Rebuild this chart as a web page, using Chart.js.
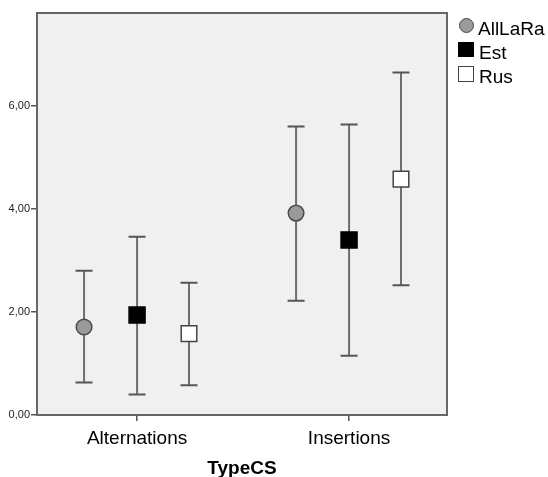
<!DOCTYPE html>
<html>
<head>
<meta charset="utf-8">
<script src="https://cdn.jsdelivr.net/npm/chart.js@4.4.1/dist/chart.umd.min.js"></script>
<style>
  html, body { margin: 0; padding: 0; background: #ffffff; }
  #wrap { position: relative; width: 548px; height: 477px; }
  canvas { position: absolute; left: 0; top: 0; }
  .lg { position: absolute; font-family: "Liberation Sans", Arial, sans-serif; font-size: 19px; line-height: 19px; color: #000; white-space: nowrap; }
  .sw { position: absolute; box-sizing: border-box; }
</style>
</head>
<body>
<div id="wrap">
  <canvas id="c" width="548" height="477"></canvas>
  <div class="sw" style="left:459px;top:18px;width:15px;height:15px;border-radius:50%;background:#9a9a9a;border:1.5px solid #4a4a4a;"></div>
  <div class="lg" style="left:478px;top:19px;">AllLaRa</div>
  <div class="sw" style="left:458px;top:42px;width:16px;height:15px;background:#000;"></div>
  <div class="lg" style="left:479px;top:43px;">Est</div>
  <div class="sw" style="left:458px;top:66px;width:16px;height:16px;background:#fff;border:1.5px solid #444;"></div>
  <div class="lg" style="left:479px;top:67px;">Rus</div>
</div>
<script>
const categories = ['Alternations', 'Insertions'];
const seriesNames = ['AllLaRa', 'Est', 'Rus'];
const meanAllLaRa = [1.71, 3.92];
const meanEst = [1.94, 3.40];
const meanRus = [1.58, 4.58];
const upperAllLaRa = [2.80, 5.60];
const upperEst = [3.46, 5.64];
const upperRus = [2.57, 6.65];
const lowerAllLaRa = [0.63, 2.22];
const lowerEst = [0.40, 1.15];
const lowerRus = [0.58, 2.52];
const yTickValues = [0, 2, 4, 6];
const yTickLabels = ['0,00', '2,00', '4,00', '6,00'];

const seriesOffsets = [-0.25, 0, 0.245];
const means = [meanAllLaRa, meanEst, meanRus];
const uppers = [upperAllLaRa, upperEst, upperRus];
const lowers = [lowerAllLaRa, lowerEst, lowerRus];
const styles = [
  { pointStyle: 'circle', radius: 7.8, bg: '#9a9a9a', border: '#4a4a4a' },
  { pointStyle: 'rect', radius: 11.3, bg: '#000000', border: '#000000' },
  { pointStyle: 'rect', radius: 11, bg: '#ffffff', border: '#444444' }
];

const datasets = seriesNames.map((name, s) => ({
  label: name,
  data: categories.map((c, i) => ({ x: i + seriesOffsets[s], y: means[s][i], lo: lowers[s][i], hi: uppers[s][i] })),
  pointStyle: styles[s].pointStyle,
  pointRadius: styles[s].radius,
  pointHoverRadius: styles[s].radius,
  backgroundColor: styles[s].bg,
  borderColor: styles[s].border,
  borderWidth: 1.5,
  showLine: false
}));

const bgPlugin = {
  id: 'bg',
  beforeDraw(chart) {
    const { ctx, chartArea: a } = chart;
    ctx.save();
    ctx.fillStyle = '#f0f0f0';
    ctx.fillRect(a.left, a.top, a.right - a.left, a.bottom - a.top);
    ctx.restore();
  },
  beforeDatasetsDraw(chart) {
    const { ctx, chartArea: a } = chart;
    const xs = chart.scales.x, ys = chart.scales.y;
    ctx.save();
    chart.data.datasets.forEach(ds => {
      ds.data.forEach(p => {
        const px = xs.getPixelForValue(p.x);
        const pl = ys.getPixelForValue(p.lo);
        const ph = ys.getPixelForValue(p.hi);
        ctx.strokeStyle = '#6e6e6e';
        ctx.lineWidth = 2;
        ctx.beginPath();
        ctx.moveTo(px, pl);
        ctx.lineTo(px, ph);
        ctx.stroke();
        ctx.strokeStyle = '#555555';
        ctx.lineWidth = 2;
        ctx.beginPath();
        ctx.moveTo(px - 8.5, pl); ctx.lineTo(px + 8.5, pl);
        ctx.moveTo(px - 8.5, ph); ctx.lineTo(px + 8.5, ph);
        ctx.stroke();
      });
    });
    ctx.strokeStyle = '#666666';
    ctx.lineWidth = 2;
    ctx.strokeRect(a.left, a.top, a.right - a.left, a.bottom - a.top);
    ctx.restore();
  }
};

new Chart(document.getElementById('c'), {
  type: 'scatter',
  data: { datasets },
  plugins: [bgPlugin],
  options: {
    responsive: false,
    animation: false,
    events: [],
    layout: { padding: { left: 0, right: 101, top: 13, bottom: 0 } },
    plugins: { legend: { display: false }, tooltip: { enabled: false } },
    scales: {
      x: {
        type: 'linear',
        min: -0.472,
        max: 1.462,
        afterFit(s) { s.height = 62; },
        afterBuildTicks(s) { s.ticks = categories.map((c, i) => ({ value: i })); },
        grid: { drawOnChartArea: false, drawTicks: true, tickLength: 6, color: '#555555', lineWidth: 1.5 },
        border: { display: false },
        ticks: {
          autoSkip: false, maxRotation: 0, padding: 6,
          color: '#000000',
          font: { family: '"Liberation Sans", Arial, sans-serif', size: 19 },
          callback: (v) => categories[v] !== undefined ? categories[v] : ''
        },
        title: {
          display: true, text: 'TypeCS', color: '#000000',
          font: { family: '"Liberation Sans", Arial, sans-serif', size: 19, weight: 'bold' },
          padding: { top: 0, bottom: -3 }
        }
      },
      y: {
        min: 0,
        max: 7.806,
        afterFit(s) { s.width = 37; },
        afterBuildTicks(s) { s.ticks = yTickValues.map(v => ({ value: v })); },
        grid: { drawOnChartArea: false, drawTicks: true, tickLength: 6, color: '#555555', lineWidth: 1.5 },
        border: { display: false },
        ticks: {
          padding: 1,
          color: '#222222',
          font: { family: '"Liberation Sans", Arial, sans-serif', size: 11 },
          callback: (v) => { const k = yTickValues.indexOf(v); return k >= 0 ? yTickLabels[k] : ''; }
        }
      }
    }
  }
});
</script>
</body>
</html>
